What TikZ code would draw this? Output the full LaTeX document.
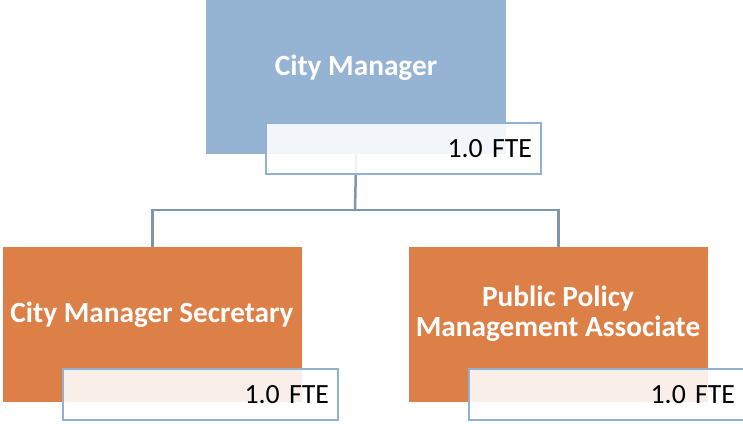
\documentclass[tikz,border=0pt]{standalone}
\usepackage{fontspec}
\setmainfont{Carlito}
\usetikzlibrary{positioning}
\definecolor{mgrblue}{RGB}{149,179,210}
\definecolor{staffor}{RGB}{221,128,71}
\definecolor{fteedge}{RGB}{146,177,210}
\definecolor{orgline}{RGB}{125,150,174}
\tikzset{%
  % blue box for the head of the office
  headbox/.style={rectangle, fill=mgrblue, minimum width=300, minimum height=154, inner sep=0pt, anchor=north west},
  % orange boxes for the staff
  staffbox/.style={rectangle, fill=staffor, minimum width=299, minimum height=155, inner sep=0pt, anchor=north west},
  % title text in the boxes
  titletext/.style={text=white, font=\fontsize{29.3}{30}\selectfont\bfseries, align=center, inner sep=0pt},
  % the little FTE tab on each box
  ftebox/.style={rectangle, draw=fteedge, line width=2pt, fill=white, fill opacity=0.88, text opacity=1,
    minimum height=51, text width=257, inner xsep=9pt, align=right, anchor=north west,
    font=\fontsize{27.8}{30}\selectfont},
  orglink/.style={draw=orgline, line width=2.5pt},
}
\begin{document}
\begin{tikzpicture}[x=1pt, y=-1pt]
  \useasboundingbox (0,0) rectangle (743,423);
  \coordinate (bus) at (355,210);

  \node[headbox] (cm) at (206,0) {};
  \node[staffbox] (sec) at (3,247) {};
  \node[staffbox] (ppma) at (409,247) {};

  % lines go under the tabs
  \path[orglink] (cm.south) -- (bus);
  \path[orglink] (sec.north) |- (bus) -| (ppma.north);

  \node[titletext] (cmt) at (356,68) {City Manager};
  \node[titletext] (sect) at (152,315) {City Manager Secretary};
  \node[titletext] (ppmat) at (558,314) {Public Policy\\Management Associate};

  \node[ftebox] (cmfte) at (265,122) {1.0 FTE};
  \node[ftebox] (secfte) at (62,368) {1.0 FTE};
  \node[ftebox] (ppmafte) at (468,368) {1.0 FTE};
\end{tikzpicture}
\end{document}
